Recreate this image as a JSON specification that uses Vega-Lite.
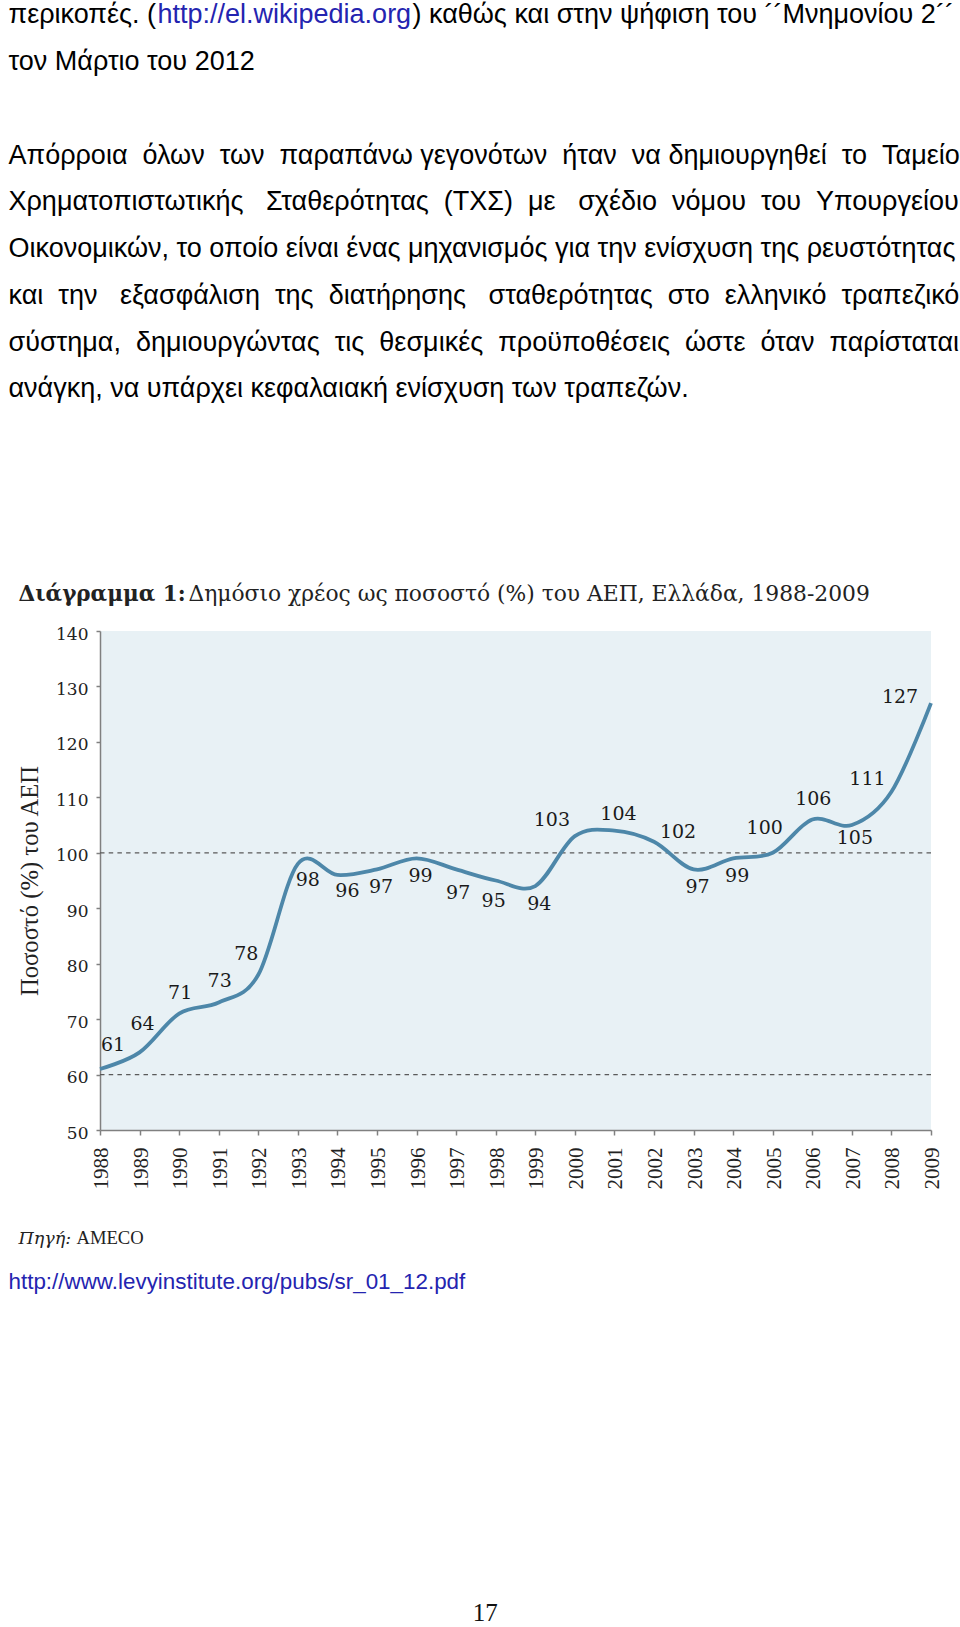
{
  "$schema": "https://vega.github.io/schema/vega-lite/v6.json",
  "width": 831,
  "height": 499,
  "autosize": {"type": "none"},
  "padding": {"left": 100, "top": 631, "right": 29, "bottom": 497},
  "background": "white",
  "config": {
    "view": {"stroke": null, "fill": "#e8f1f5"},
    "axis": {"titleLimit": 3000, "labelLimit": 3000}
  },
  "data": {
    "values": [
      {"year": 1988, "value": 61},
      {"year": 1989, "value": 64},
      {"year": 1990, "value": 71},
      {"year": 1991, "value": 73},
      {"year": 1992, "value": 78},
      {"year": 1993, "value": 98},
      {"year": 1994, "value": 96},
      {"year": 1995, "value": 97},
      {"year": 1996, "value": 99},
      {"year": 1997, "value": 97},
      {"year": 1998, "value": 95},
      {"year": 1999, "value": 94},
      {"year": 2000, "value": 103},
      {"year": 2001, "value": 104},
      {"year": 2002, "value": 102},
      {"year": 2003, "value": 97},
      {"year": 2004, "value": 99},
      {"year": 2005, "value": 100},
      {"year": 2006, "value": 106},
      {"year": 2007, "value": 105},
      {"year": 2008, "value": 111},
      {"year": 2009, "value": 127}
    ]
  },
  "resolve": {"axis": {"x": "independent", "y": "independent"}},
  "layer": [
    {
      "data": {"values": [{"ref": 60}, {"ref": 100}]},
      "mark": {"type": "rule", "color": "#5a5a5a", "strokeWidth": 1.2, "strokeDash": [4.5, 4.2]},
      "encoding": {
        "y": {"field": "ref", "type": "quantitative", "scale": {"domain": [50, 140], "nice": false, "zero": false}, "axis": null}
      }
    },
    {
      "mark": {"type": "line", "color": "#4d87a9", "strokeWidth": 3.8, "interpolate": "cardinal"},
      "encoding": {
        "x": {"field": "year", "type": "ordinal", "scale": {"type": "point", "padding": 0},
          "axis": {"orient": "bottom", "labelAngle": -90, "labelFont": "Liberation Serif", "labelFontSize": 21, "labelColor": "#222", "labelPadding": 12, "labelOffset": 1.5, "tickSize": 5, "tickColor": "#808080", "tickWidth": 1.5, "domainColor": "#808080", "domainWidth": 1.5, "grid": false, "title": null}},
        "y": {"field": "value", "type": "quantitative", "scale": {"domain": [50, 140], "nice": false, "zero": false},
          "axis": {"orient": "left", "values": [50, 60, 70, 80, 90, 100, 110, 120, 130, 140], "labelFont": "DejaVu Serif", "labelFontSize": 17, "labelColor": "#222", "labelPadding": 8, "labelOffset": 3, "tickSize": 4, "tickColor": "#808080", "tickWidth": 1.5, "domainColor": "#808080", "domainWidth": 1.5, "grid": false,
            "title": "Ποσοστό (%) του ΑΕΠ", "titleFont": "Liberation Serif", "titleFontSize": 24.6, "titleFontWeight": "normal", "titleColor": "#222", "titleX": -70, "titleY": 249.5, "titleAngle": -90, "titleAlign": "center", "titleBaseline": "middle"}}
      }
    },
    {
      "transform": [{"filter": {"field": "year", "oneOf": [1988]}}],
      "mark": {"type": "text", "dx": 13, "dy": -24, "font": "DejaVu Serif", "fontSize": 19, "color": "#1a1a1a", "align": "center", "baseline": "middle"},
      "encoding": {
        "x": {"field": "year", "type": "ordinal", "scale": {"type": "point", "padding": 0},
          "axis": {"orient": "top", "labels": false, "ticks": false, "domain": false, "grid": false, "title": "περικοπές. (", "titleX": -92, "titleY": -608.25, "titleAlign": "left", "titleAnchor": "start", "titleBaseline": "alphabetic", "titleAngle": 0, "titleFont": "Liberation Sans", "titleFontSize": 27, "titleFontWeight": "normal", "titleColor": "#000000"}},
        "y": {"field": "value", "type": "quantitative", "axis": null},
        "text": {"field": "value", "type": "quantitative"}
      }
    },
    {
      "transform": [{"filter": {"field": "year", "oneOf": [1989]}}],
      "mark": {"type": "text", "dx": 3, "dy": -28, "font": "DejaVu Serif", "fontSize": 19, "color": "#1a1a1a", "align": "center", "baseline": "middle"},
      "encoding": {
        "x": {"field": "year", "type": "ordinal", "scale": {"type": "point", "padding": 0},
          "axis": {"orient": "top", "labels": false, "ticks": false, "domain": false, "grid": false, "title": "http://el.wikipedia.org", "titleX": 57, "titleY": -608.25, "titleAlign": "left", "titleAnchor": "start", "titleBaseline": "alphabetic", "titleAngle": 0, "titleFont": "Liberation Sans", "titleFontSize": 27, "titleFontWeight": "normal", "titleColor": "#2424b0"}},
        "y": {"field": "value", "type": "quantitative", "axis": null},
        "text": {"field": "value", "type": "quantitative"}
      }
    },
    {
      "transform": [{"filter": {"field": "year", "oneOf": [1990, 1991, 2006]}}],
      "mark": {"type": "text", "dx": 1, "dy": -21, "font": "DejaVu Serif", "fontSize": 19, "color": "#1a1a1a", "align": "center", "baseline": "middle"},
      "encoding": {
        "x": {"field": "year", "type": "ordinal", "scale": {"type": "point", "padding": 0}, "axis": null},
        "y": {"field": "value", "type": "quantitative", "axis": null},
        "text": {"field": "value", "type": "quantitative"}
      }
    },
    {
      "transform": [{"filter": {"field": "year", "oneOf": [1992]}}],
      "mark": {"type": "text", "dx": -12, "dy": -21, "font": "DejaVu Serif", "fontSize": 19, "color": "#1a1a1a", "align": "center", "baseline": "middle"},
      "encoding": {
        "x": {"field": "year", "type": "ordinal", "scale": {"type": "point", "padding": 0},
          "axis": {"orient": "top", "labels": false, "ticks": false, "domain": false, "grid": false, "title": ") καθώς και στην ψήφιση του ´´Μνημονίου 2´´", "titleX": 312, "titleY": -608.25, "titleAlign": "left", "titleAnchor": "start", "titleBaseline": "alphabetic", "titleAngle": 0, "titleFont": "Liberation Sans", "titleFontSize": 27, "titleFontWeight": "normal", "titleColor": "#000000"}},
        "y": {"field": "value", "type": "quantitative", "axis": null},
        "text": {"field": "value", "type": "quantitative"}
      }
    },
    {
      "transform": [{"filter": {"field": "year", "oneOf": [1993, 1994]}}],
      "mark": {"type": "text", "dx": 10, "dy": 16, "font": "DejaVu Serif", "fontSize": 19, "color": "#1a1a1a", "align": "center", "baseline": "middle"},
      "encoding": {
        "x": {"field": "year", "type": "ordinal", "scale": {"type": "point", "padding": 0},
          "axis": {"orient": "top", "labels": false, "ticks": false, "domain": false, "grid": false,
            "title": "τον Μάρτιο του 2012",
            "titleX": -92, "titleY": -561.5, "titleAlign": "left", "titleAnchor": "start", "titleBaseline": "alphabetic", "titleAngle": 0, "titleFont": "Liberation Sans", "titleFontSize": 27, "titleFontWeight": "normal", "titleColor": "#000000"}},
        "y": {"field": "value", "type": "quantitative", "axis": null},
        "text": {"field": "value", "type": "quantitative"}
      }
    },
    {
      "transform": [{"filter": {"field": "year", "oneOf": [1995, 1996, 1999, 2003, 2004]}}],
      "mark": {"type": "text", "dx": 4, "dy": 18, "font": "DejaVu Serif", "fontSize": 19, "color": "#1a1a1a", "align": "center", "baseline": "middle"},
      "encoding": {
        "x": {"field": "year", "type": "ordinal", "scale": {"type": "point", "padding": 0},
          "axis": {"orient": "top", "labels": false, "ticks": false, "domain": false, "grid": false, "title": "Διάγραμμα 1:", "titleX": -82, "titleY": -31, "titleAlign": "left", "titleAnchor": "start", "titleBaseline": "alphabetic", "titleAngle": 0, "titleFont": "DejaVu Serif", "titleFontSize": 21.5, "titleFontWeight": "bold", "titleColor": "#222222"}},
        "y": {"field": "value", "type": "quantitative", "axis": null},
        "text": {"field": "value", "type": "quantitative"}
      }
    },
    {
      "transform": [{"filter": {"field": "year", "oneOf": [1997]}}],
      "mark": {"type": "text", "dx": 2, "dy": 24, "font": "DejaVu Serif", "fontSize": 19, "color": "#1a1a1a", "align": "center", "baseline": "middle"},
      "encoding": {
        "x": {"field": "year", "type": "ordinal", "scale": {"type": "point", "padding": 0},
          "axis": {"orient": "top", "labels": false, "ticks": false, "domain": false, "grid": false, "title": "Δημόσιο χρέος ως ποσοστό (%) του ΑΕΠ, Ελλάδα, 1988-2009", "titleX": 88, "titleY": -31, "titleAlign": "left", "titleAnchor": "start", "titleBaseline": "alphabetic", "titleAngle": 0, "titleFont": "DejaVu Serif", "titleFontSize": 21.8, "titleFontWeight": "normal", "titleColor": "#222222"}},
        "y": {"field": "value", "type": "quantitative", "axis": null},
        "text": {"field": "value", "type": "quantitative"}
      }
    },
    {
      "transform": [{"filter": {"field": "year", "oneOf": [1998]}}],
      "mark": {"type": "text", "dx": -2, "dy": 20, "font": "DejaVu Serif", "fontSize": 19, "color": "#1a1a1a", "align": "center", "baseline": "middle"},
      "encoding": {
        "x": {"field": "year", "type": "ordinal", "scale": {"type": "point", "padding": 0},
          "axis": {"orient": "bottom", "labels": false, "ticks": false, "domain": false, "grid": false, "title": "Πηγή:", "titleX": -82, "titleY": 113.3, "titleAlign": "left", "titleAnchor": "start", "titleBaseline": "alphabetic", "titleAngle": 0, "titleFont": "DejaVu Serif", "titleFontSize": 17.5, "titleFontWeight": "normal", "titleFontStyle": "italic", "titleColor": "#222222"}},
        "y": {"field": "value", "type": "quantitative", "axis": null},
        "text": {"field": "value", "type": "quantitative"}
      }
    },
    {
      "transform": [{"filter": {"field": "year", "oneOf": [2000]}}],
      "mark": {"type": "text", "dx": -23, "dy": -16, "font": "DejaVu Serif", "fontSize": 19, "color": "#1a1a1a", "align": "center", "baseline": "middle"},
      "encoding": {
        "x": {"field": "year", "type": "ordinal", "scale": {"type": "point", "padding": 0},
          "axis": {"orient": "bottom", "labels": false, "ticks": false, "domain": false, "grid": false, "title": "AMECO", "titleX": -24, "titleY": 113.3, "titleAlign": "left", "titleAnchor": "start", "titleBaseline": "alphabetic", "titleAngle": 0, "titleFont": "Liberation Serif", "titleFontSize": 18.6, "titleFontWeight": "normal", "titleColor": "#222222"}},
        "y": {"field": "value", "type": "quantitative", "axis": null},
        "text": {"field": "value", "type": "quantitative"}
      }
    },
    {
      "transform": [{"filter": {"field": "year", "oneOf": [2001]}}],
      "mark": {"type": "text", "dx": 4, "dy": -16.5, "font": "DejaVu Serif", "fontSize": 19, "color": "#1a1a1a", "align": "center", "baseline": "middle"},
      "encoding": {
        "x": {"field": "year", "type": "ordinal", "scale": {"type": "point", "padding": 0},
          "axis": {"orient": "bottom", "labels": false, "ticks": false, "domain": false, "grid": false, "title": "http://www.levyinstitute.org/pubs/sr_01_12.pdf", "titleX": -92, "titleY": 158.5, "titleAlign": "left", "titleAnchor": "start", "titleBaseline": "alphabetic", "titleAngle": 0, "titleFont": "Liberation Sans", "titleFontSize": 22.4, "titleFontWeight": "normal", "titleColor": "#2424b0"}},
        "y": {"field": "value", "type": "quantitative", "axis": null},
        "text": {"field": "value", "type": "quantitative"}
      }
    },
    {
      "transform": [{"filter": {"field": "year", "oneOf": [2002]}}],
      "mark": {"type": "text", "dx": 24, "dy": -10, "font": "DejaVu Serif", "fontSize": 19, "color": "#1a1a1a", "align": "center", "baseline": "middle"},
      "encoding": {
        "x": {"field": "year", "type": "ordinal", "scale": {"type": "point", "padding": 0}, "axis": null},
        "y": {"field": "value", "type": "quantitative", "axis": null},
        "text": {"field": "value", "type": "quantitative"}
      }
    },
    {
      "transform": [{"filter": {"field": "year", "oneOf": [2005]}}],
      "mark": {"type": "text", "dx": -8, "dy": -24.5, "font": "DejaVu Serif", "fontSize": 19, "color": "#1a1a1a", "align": "center", "baseline": "middle"},
      "encoding": {
        "x": {"field": "year", "type": "ordinal", "scale": {"type": "point", "padding": 0},
          "axis": {"orient": "bottom", "labels": false, "ticks": false, "domain": false, "grid": false, "title": "17", "titleX": 384.7, "titleY": 490.5, "titleAlign": "center", "titleAnchor": "middle", "titleBaseline": "alphabetic", "titleAngle": 0, "titleFont": "Liberation Serif", "titleFontSize": 25, "titleFontWeight": "normal", "titleColor": "#111111"}},
        "y": {"field": "value", "type": "quantitative", "axis": null},
        "text": {"field": "value", "type": "quantitative"}
      }
    },
    {
      "transform": [{"filter": {"field": "year", "oneOf": [2007]}}],
      "mark": {"type": "text", "dx": 3, "dy": 13, "font": "DejaVu Serif", "fontSize": 19, "color": "#1a1a1a", "align": "center", "baseline": "middle"},
      "encoding": {
        "x": {"field": "year", "type": "ordinal", "scale": {"type": "point", "padding": 0},
          "axis": {"orient": "top", "labels": false, "ticks": false, "domain": false, "grid": false,
            "title": ["Απόρροια \u00a0όλων \u00a0των \u00a0παραπάνω γεγονότων \u00a0ήταν \u00a0να δημιουργηθεί \u00a0το \u00a0Ταμείο", "Χρηματοπιστωτικής \u00a0\u00a0Σταθερότητας \u00a0(ΤΧΣ) \u00a0με \u00a0\u00a0σχέδιο \u00a0νόμου \u00a0του \u00a0Υπουργείου", "Οικονομικών, το οποίο είναι ένας μηχανισμός για την ενίσχυση της ρευστότητας", "και \u00a0την \u00a0\u00a0εξασφάλιση \u00a0της \u00a0διατήρησης \u00a0\u00a0σταθερότητας \u00a0στο \u00a0ελληνικό \u00a0τραπεζικό", "σύστημα, \u00a0δημιουργώντας \u00a0τις \u00a0θεσμικές \u00a0προϋποθέσεις \u00a0ώστε \u00a0όταν \u00a0παρίσταται", "ανάγκη, να υπάρχει κεφαλαιακή ενίσχυση των τραπεζών."],
            "titleLineHeight": 46.75, "titleX": -92, "titleY": -468, "titleAlign": "left", "titleAnchor": "start", "titleBaseline": "alphabetic", "titleAngle": 0, "titleFont": "Liberation Sans", "titleFontSize": 27, "titleFontWeight": "normal", "titleColor": "#000000"}},
        "y": {"field": "value", "type": "quantitative", "axis": null},
        "text": {"field": "value", "type": "quantitative"}
      }
    },
    {
      "transform": [{"filter": {"field": "year", "oneOf": [2008]}}],
      "mark": {"type": "text", "dx": -24, "dy": -12.5, "font": "DejaVu Serif", "fontSize": 19, "color": "#1a1a1a", "align": "center", "baseline": "middle"},
      "encoding": {
        "x": {"field": "year", "type": "ordinal", "scale": {"type": "point", "padding": 0}, "axis": null},
        "y": {"field": "value", "type": "quantitative", "axis": null},
        "text": {"field": "value", "type": "quantitative"}
      }
    },
    {
      "transform": [{"filter": {"field": "year", "oneOf": [2009]}}],
      "mark": {"type": "text", "dx": -31, "dy": -6, "font": "DejaVu Serif", "fontSize": 19, "color": "#1a1a1a", "align": "center", "baseline": "middle"},
      "encoding": {
        "x": {"field": "year", "type": "ordinal", "scale": {"type": "point", "padding": 0}, "axis": null},
        "y": {"field": "value", "type": "quantitative", "axis": null},
        "text": {"field": "value", "type": "quantitative"}
      }
    }
  ]
}
